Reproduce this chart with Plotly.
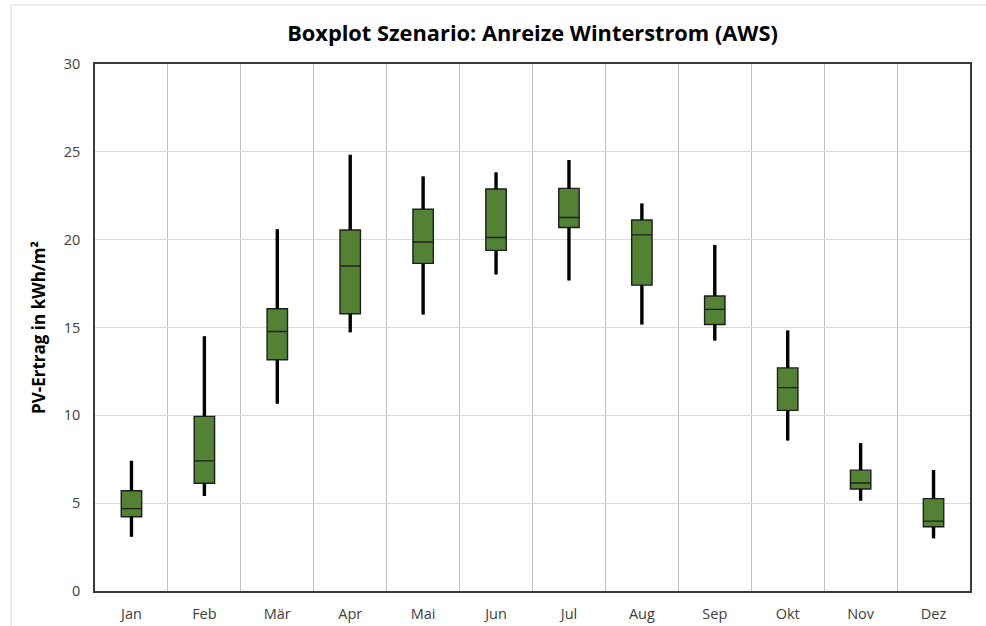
import plotly.graph_objects as go

months = ["Jan", "Feb", "Mär", "Apr", "Mai", "Jun", "Jul", "Aug", "Sep", "Okt", "Nov", "Dez"]
lower = [3.09, 5.41, 10.66, 14.73, 15.74, 18.02, 17.68, 15.17, 14.26, 8.57, 5.14, 3.00]
q1 = [4.23, 6.13, 13.16, 15.78, 18.65, 19.39, 20.69, 17.41, 15.17, 10.28, 5.81, 3.66]
median = [4.69, 7.41, 14.77, 18.50, 19.87, 20.12, 21.26, 20.27, 16.03, 11.58, 6.15, 3.98]
q3 = [5.71, 9.94, 16.07, 20.55, 21.73, 22.88, 22.92, 21.12, 16.79, 12.70, 6.88, 5.26]
upper = [7.41, 14.50, 20.59, 24.83, 23.60, 23.83, 24.53, 22.06, 19.70, 14.83, 8.42, 6.89]
y_ticks = [0, 5, 10, 15, 20, 25, 30]

FONT = "Open Sans"
GREEN = "#548235"

fig = go.Figure()

# Boxes
fig.add_trace(go.Box(
    x=months, q1=q1, median=median, q3=q3,
    lowerfence=lower, upperfence=upper,
    boxpoints=False, fillcolor=GREEN,
    line=dict(color="#1e1e1e", width=1.4),
    whiskerwidth=0, showlegend=False, hoverinfo="skip",
))

# Thick whiskers
fig.add_trace(go.Scatter(
    x=months, y=q3, mode="markers",
    marker=dict(size=1, color="rgba(0,0,0,0)"),
    error_y=dict(type="data", symmetric=False,
                 array=[u - q for u, q in zip(upper, q3)],
                 arrayminus=[0] * len(months),
                 color="black", thickness=3.4, width=0),
    showlegend=False, hoverinfo="skip",
))
fig.add_trace(go.Scatter(
    x=months, y=q1, mode="markers",
    marker=dict(size=1, color="rgba(0,0,0,0)"),
    error_y=dict(type="data", symmetric=False,
                 array=[0] * len(months),
                 arrayminus=[q - l for q, l in zip(q1, lower)],
                 color="black", thickness=3.4, width=0),
    showlegend=False, hoverinfo="skip",
))

ml, mr, mt, mb = 95, 16, 64, 35
W, H = 986, 626
pw, ph = W - ml - mr, H - mt - mb

def px_x(px):
    return (px - ml) / pw

def px_y(py):
    return (H - mb - py) / ph

fig.update_layout(
    width=W, height=H,
    margin=dict(l=ml, r=mr, t=mt, b=mb),
    paper_bgcolor="white", plot_bgcolor="white",
    boxgap=0.6,
    font=dict(family=FONT, color="#404040"),
    title=dict(text="<b>Boxplot Szenario: Anreize Winterstrom (AWS)</b>",
               x=0.5, xref="paper", xanchor="center",
               y=1 - 33 / H, yanchor="middle",
               font=dict(family=FONT, size=21.8, color="black")),
    xaxis=dict(
        type="category", categoryorder="array", categoryarray=months,
        range=[-0.5, 11.5], automargin=False,
        tickson="boundaries", showgrid=True, gridcolor="#bfbfbf", gridwidth=1.3,
        showline=True, linecolor="#3a3a3a", linewidth=1.5, mirror=True,
        ticks="", ticklabelstandoff=9,
        tickfont=dict(size=14.5, color="#404040"),
    ),
    yaxis=dict(
        range=[0, 30], tickvals=y_ticks, automargin=False,
        showgrid=True, gridcolor="#d9d9d9", gridwidth=1,
        showline=True, linecolor="#3a3a3a", linewidth=1.5, mirror=True,
        ticks="outside", ticklen=10, tickcolor="rgba(0,0,0,0)",
        tickfont=dict(size=14.5, color="#404040"),
        zeroline=False,
        title=dict(text="<b>PV-Ertrag in kWh/m²</b>", standoff=14,
                   font=dict(family=FONT, size=17, color="black")),
    ),
    shapes=[dict(type="rect", xref="paper", yref="paper",
                 x0=px_x(11), x1=px_x(1000), y0=px_y(640), y1=px_y(5),
                 line=dict(color="#d9d9d9", width=1), layer="below")],
)

fig.write_html("out.html", config={"displayModeBar": False},
               post_script="document.body.style.margin='0';")
